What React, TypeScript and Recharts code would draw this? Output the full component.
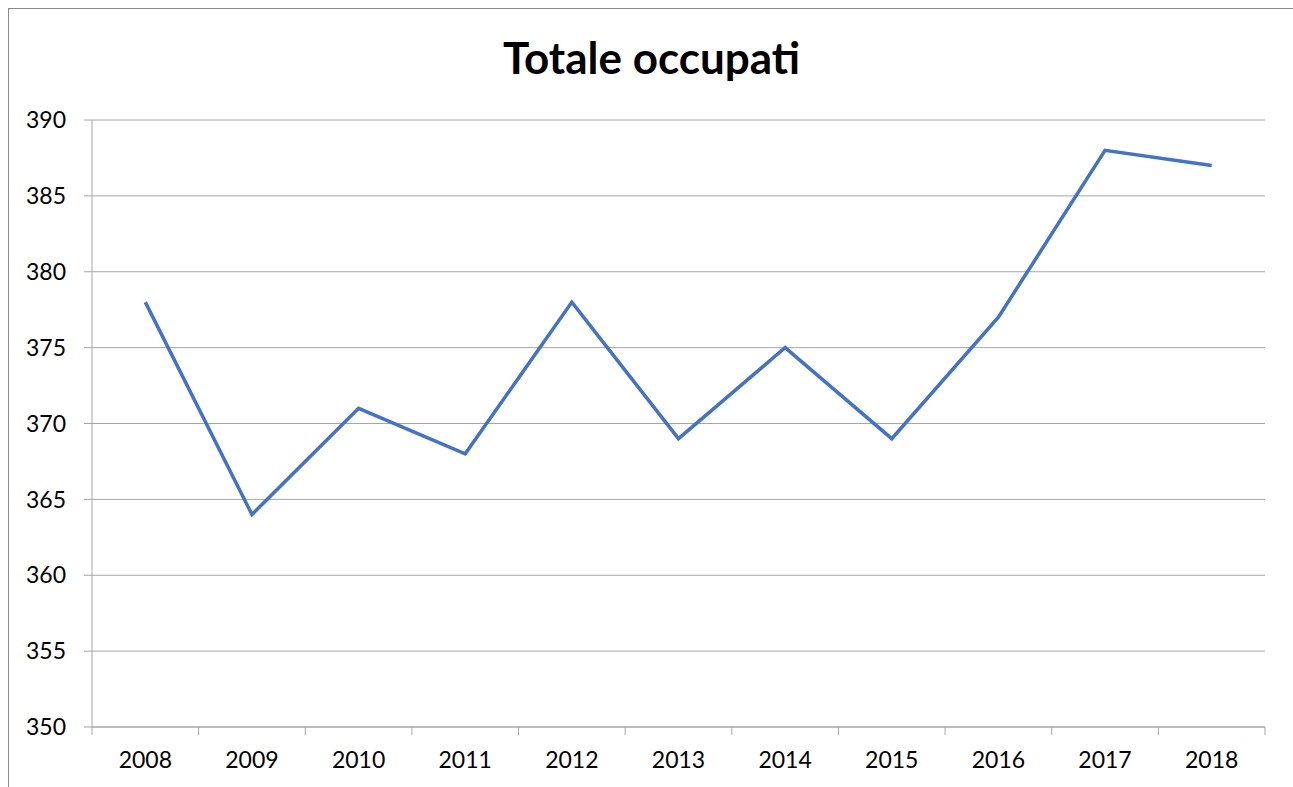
import { LineChart, Line, CartesianGrid, XAxis, YAxis } from "recharts";

const years = ["2008", "2009", "2010", "2011", "2012", "2013", "2014", "2015", "2016", "2017", "2018"];
const occupati = [378, 364, 371, 368, 378, 369, 375, 369, 377, 388, 387];
const yTicks = [350, 355, 360, 365, 370, 375, 380, 385, 390];

const data = years.map((year, i) => ({ year, occupati: occupati[i] }));

const AXIS = "#a6a6a6";
const FONT = "Lato, 'Open Sans', sans-serif";
const TICK_LEN = 8;
const X_GAP = 17;

// excel style: tick marks sit between categories, labels in the middle
function YearTick(props: any) {
  const { x, y, payload, index, width, visibleTicksCount } = props;
  const half = payload?.offset || width / visibleTicksCount / 2;
  const top = y - TICK_LEN - X_GAP;
  return (
    <g>
      <line x1={x + half} x2={x + half} y1={top} y2={top + TICK_LEN} stroke={AXIS} />
      {index === 0 && <line x1={x - half} x2={x - half} y1={top} y2={top + TICK_LEN} stroke={AXIS} />}
      <text x={x} y={y} dy="0.71em" textAnchor="middle" fill="#000" fontSize={23} fontFamily={FONT}>
        {payload.value}
      </text>
    </g>
  );
}

export default function App() {
  return (
    <div
      style={{
        position: "fixed",
        left: 8,
        top: 8,
        width: 1285,
        height: 779,
        borderLeft: "1px solid #8c8c8c",
        borderTop: "1px solid #8c8c8c",
        background: "#fff",
        boxSizing: "border-box",
      }}
    >
      <div
        style={{
          position: "absolute",
          top: 22,
          left: 0,
          width: 1285,
          textAlign: "center",
          fontFamily: FONT,
          fontWeight: 700,
          fontSize: 44,
          lineHeight: "53px",
          color: "#000",
        }}
      >
        Totale occupati
      </div>
      <LineChart
        width={1284}
        height={778}
        data={data}
        margin={{ top: 111, right: 28, left: 0, bottom: 0 }}
      >
        <CartesianGrid vertical={false} stroke={AXIS} strokeWidth={1} />
        <XAxis
          dataKey="year"
          scale="band"
          height={60}
          tickLine={false}
          tickSize={TICK_LEN}
          tickMargin={X_GAP}
          axisLine={{ stroke: AXIS }}
          tick={<YearTick />}
          interval={0}
        />
        <YAxis
          domain={[350, 390]}
          ticks={yTicks}
          width={83}
          tickSize={TICK_LEN}
          tickMargin={18}
          axisLine={{ stroke: AXIS }}
          tickLine={{ stroke: AXIS }}
          tick={{ fill: "#000", fontSize: 23, fontFamily: FONT }}
          interval={0}
        />
        <Line
          type="linear"
          dataKey="occupati"
          stroke="#4472C4"
          strokeWidth={3.5}
          dot={false}
          isAnimationActive={false}
        />
      </LineChart>
    </div>
  );
}
